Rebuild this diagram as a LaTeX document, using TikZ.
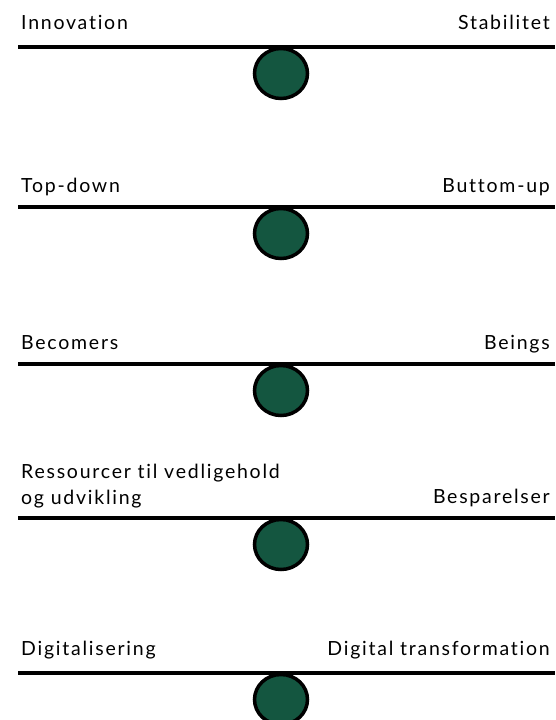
\documentclass[tikz,border=0pt]{standalone}
\usepackage{fontspec}
\setmainfont[Ligatures=NoCommon, LetterSpace=9]{Lato}
\usepackage{xcolor}
\usepackage{tikz}
\usetikzlibrary{positioning,calc,shapes.geometric}
\definecolor{ballgreen}{HTML}{145640}

\begin{document}
\begin{tikzpicture}[x=1pt, y=-1pt,
        bar/.style={line width=4pt},
        ball/.style={ellipse, draw, line width=3.5pt, fill=ballgreen, inner sep=0pt,
                     minimum width=53pt, minimum height=50pt},
        lbl/.style={inner sep=0pt, font=\fontsize{19.5}{26}\selectfont, align=left}]
        \useasboundingbox (0,0) rectangle (555,720);

        % Innovation / Stabilitet
        \node [lbl, anchor=base west] (l1) at (21,29) {Innovation};
        \node [lbl, anchor=base east] (r1) at (550,29) {Stabilitet};
        \draw [bar] (18,47) -- (555,47);
        \node [ball] (b1) at (281,73.5) {};

        % Top-down / Buttom-up
        \node [lbl, anchor=base west] (l2) at (21,192) {Top-down};
        \node [lbl, anchor=base east] (r2) at (550,192) {Buttom-up};
        \draw [bar] (18,207) -- (555,207);
        \node [ball] (b2) at (281,233.5) {};

        % Becomers / Beings
        \node [lbl, anchor=base west] (l3) at (21,349) {Becomers};
        \node [lbl, anchor=base east] (r3) at (550,349) {Beings};
        \draw [bar] (18,364) -- (555,364);
        \node [ball] (b3) at (281,390.5) {};

        % Ressourcer / Besparelser
        \node [lbl, anchor=south west] (l4) at (21,508) {Ressourcer til vedligehold\\og udvikling};
        \node [lbl, anchor=base east] (r4) at (550,503) {Besparelser};
        \draw [bar] (18,518) -- (555,518);
        \node [ball] (b4) at (281,544.5) {};

        % Digitalisering / Digital transformation
        \node [lbl, anchor=base west] (l5) at (21,655) {Digitalisering};
        \node [lbl, anchor=base east] (r5) at (550,655) {Digital transformation};
        \draw [bar] (18,673) -- (555,673);
        \node [ball] (b5) at (281,699.5) {};
    \end{tikzpicture}
\end{document}
